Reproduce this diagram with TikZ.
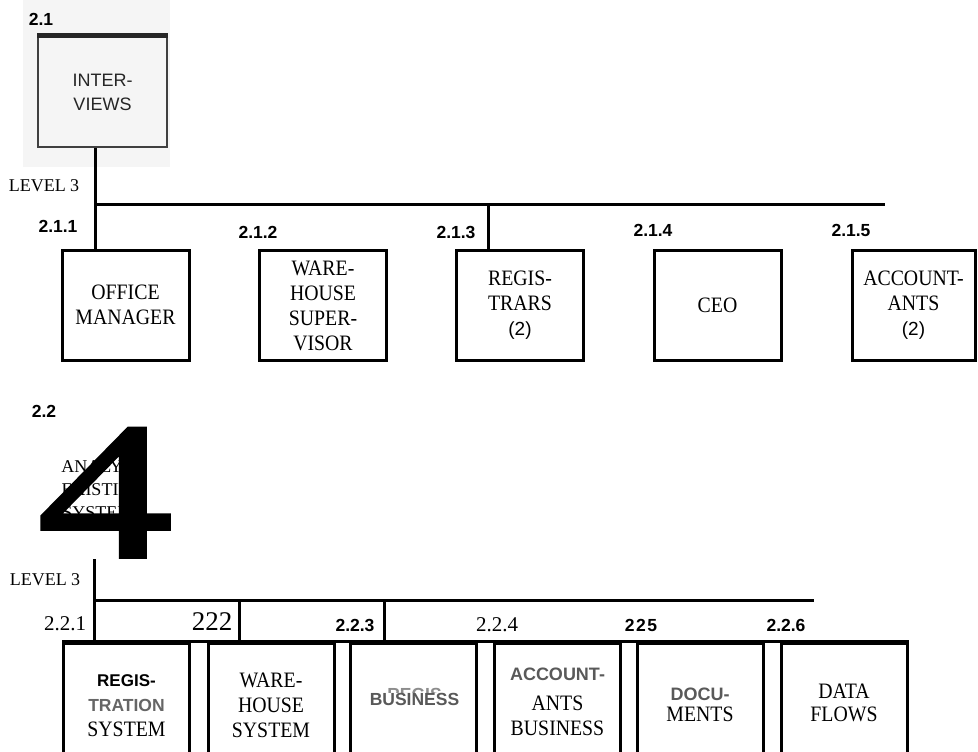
\documentclass[tikz,border=0pt]{standalone}
\usepackage{fontspec}
\usepackage{graphicx}
\setmainfont{Liberation Serif}
\newfontfamily\sansf{Liberation Sans}
\newfontfamily\condf[FakeStretch=0.9]{Liberation Serif}
\newfontfamily\bigf[FakeBold=2]{Liberation Serif}
\usetikzlibrary{positioning}

\begin{document}
\begin{tikzpicture}[x=1pt, y=-1pt,
  every node/.style={inner sep=0pt, align=center},
  box/.style={draw, line width=3pt, minimum width=127pt, minimum height=110pt, font=\condf\fontsize{22}{25}\selectfont},
  lowbox/.style={box, minimum width=126pt},
  num/.style={font=\sansf\bfseries\fontsize{17.5}{20}\selectfont},
  snum/.style={font=\fontsize{21}{24}\selectfont},
  lvl/.style={font=\fontsize{18}{21}\selectfont},
  gsans/.style={font=\sansf\bfseries\fontsize{17.5}{20}\selectfont, text=black!65},
  wire/.style={line width=3pt}]
\clip (0,0) rectangle (978,752);
\fill[black!4] (23,0) rectangle (170,167);

\node[draw=black!75, line width=2pt, minimum width=129pt, minimum height=110pt,
  font=\sansf\fontsize{18}{24}\selectfont, text=black!85] (iv) at (102.5,92) {INTER-\\VIEWS};
\draw[line width=5pt, black!85] (iv.north west) -- (iv.north east);
\node[num] (l21) at (41,19) {2.1};
\node[lvl] (lv1) at (44,186) {LEVEL 3};
\coordinate (j1) at (95,204);
\coordinate (e1) at (885,204);
\coordinate (t3) at (488,204);

\node[box] (om) at (125.5,305) {OFFICE\\MANAGER};
\node[box] (ws) at (323,305.5) {WARE-\\HOUSE\\SUPER-\\VISOR};
\node[box] (rg) at (520,305.5) {REGIS-\\TRARS\\{\sansf\fontsize{19}{20}\selectfont (2)}};
\node[box] (ceo) at (717.5,305.5) {CEO};
\node[box, minimum width=123pt] (ac) at (913.5,305) {ACCOUNT-\\ANTS\\{\sansf\fontsize{19}{20}\selectfont (2)}};
\node[num] (l211) at (58,226) {2.1.1};
\node[num] (l212) at (258,232) {2.1.2};
\node[num] (l213) at (456,232) {2.1.3};
\node[num] (l214) at (653,230) {2.1.4};
\node[num] (l215) at (851,230) {2.1.5};
\draw[wire] (iv.south -| j1) -- (om.north -| j1);
\draw[wire] (j1) -- (e1);
\draw[wire] (t3) -- (t3 |- rg.north);

\node[num] (l22) at (44,411) {2.2};
\node[font=\fontsize{18}{23}\selectfont] (an) at (103,490) {ANALYZE\\EXISTING\\SYSTEMS};
\node[anchor=base, font=\bigf\fontsize{195}{195}\selectfont] (four) at (105,557) {\scalebox{1.38}[1]{4}};

\node[lvl] (lv2) at (45,580) {LEVEL 3};
\coordinate (a2) at (94,559);
\coordinate (j2) at (94,600);
\coordinate (e2) at (814,600);
\coordinate (t22) at (239,600);
\coordinate (t23) at (384,600);

\node[lowbox, minimum height=126pt] (b1) at (126.5,706) {{\sansf\bfseries\fontsize{17}{20}\selectfont REGIS-}\\{\sansf\bfseries\fontsize{17.5}{20}\selectfont\color{black!60}TRATION}\\SYSTEM};
\node[lowbox, minimum height=125pt] (b2) at (271,705.5) {WARE-\\HOUSE\\SYSTEM};
\node[lowbox, minimum height=112pt] (b3) at (413.5,699) {};
\node[gsans, text=black!45] (b3r) at (414.5,694) {REGIS};
\node[gsans, fill=white] (b3t) at (414.5,699) {BUSINESS};
\node[lowbox, minimum height=117pt] (b4) at (557.5,701.5) {{\sansf\bfseries\fontsize{18}{20}\selectfont\color{black!65}ACCOUNT-}\\[5pt]ANTS\\BUSINESS};
\node[lowbox, minimum height=123pt] (b5) at (700,704.5) {{\sansf\bfseries\fontsize{18}{20}\selectfont\color{black!65}DOCU-}\\[-4pt]MENTS};
\node[lowbox, minimum height=119pt] (b6) at (844,702.5) {DATA\\[-2pt]FLOWS};
\node[snum] (l221) at (65,624) {2.2.1};
\node[font=\fontsize{27}{30}\selectfont] (l222) at (212,622) {222};
\node[num] (l223) at (355,625) {2.2.3};
\node[snum] (l224) at (497,625) {2.2.4};
\node[num] (l225) at (641,625) {2\hspace{1.5pt}2\hspace{1.5pt}5};
\node[num] (l226) at (786,625) {2.2.6};
\draw[wire] (b1.north west) -- (b6.north east);
\draw[wire] (a2) -- (a2 |- b1.north);
\draw[wire] (j2) -- (e2);
\draw[wire] (t22) -- (t22 |- b1.north);
\draw[wire] (t23) -- (t23 |- b1.north);
\end{tikzpicture}
\end{document}
